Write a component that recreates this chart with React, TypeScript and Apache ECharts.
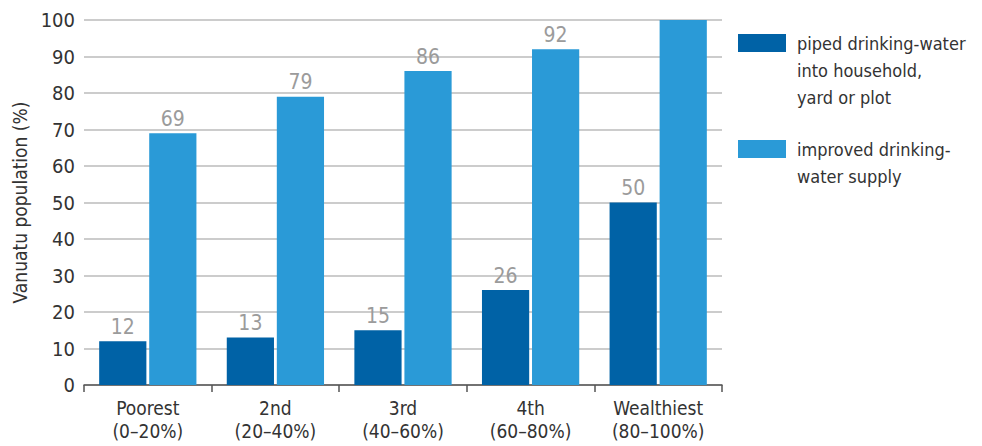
import React, { useEffect, useRef } from "react";
import * as echarts from "echarts";

const categories = ["Poorest\n(0–20%)", "2nd\n(20–40%)", "3rd\n(40–60%)", "4th\n(60–80%)", "Wealthiest\n(80–100%)"];
const pipedValues = [12, 13, 15, 26, 50];
const improvedValues = [69, 79, 86, 92, 100];
const seriesNames = ["piped drinking-water\ninto household,\nyard or plot", "improved drinking-\nwater supply"];
const yAxisName = "Vanuatu population (%)";

const FONT = "'Liberation Sans Narrow', 'DejaVu Sans Condensed', 'Roboto', sans-serif";
const DARK = "#0062a6";
const LIGHT = "#2a9ad7";

export default function App() {
  const ref = useRef<HTMLDivElement>(null);
  useEffect(() => {
    if (!ref.current) return;
    const chart = echarts.init(ref.current, null, { renderer: "svg" });
    const label = {
      show: true,
      position: "top",
      distance: 4,
      color: "#9b9b9b",
      fontSize: 21,
      fontFamily: FONT,
    };
    chart.setOption({
      animation: false,
      textStyle: { fontFamily: FONT },
      grid: { left: 84, right: 260, top: 20, bottom: 61, containLabel: false },
      xAxis: {
        type: "category",
        data: categories,
        axisLine: { show: true, lineStyle: { color: "#555", width: 1.5 } },
        axisTick: { show: true, length: 7, lineStyle: { color: "#555", width: 1.5 } },
        axisLabel: { color: "#333", fontSize: 19, fontFamily: FONT, lineHeight: 23, margin: 11 },
      },
      yAxis: {
        type: "value",
        min: 0,
        max: 100,
        interval: 10,
        name: yAxisName,
        nameLocation: "middle",
        nameGap: 53,
        nameTextStyle: { color: "#333", fontSize: 19, fontFamily: FONT },
        axisLine: { show: false },
        axisTick: { show: false },
        axisLabel: { color: "#333", fontSize: 20, fontFamily: FONT, margin: 9 },
        splitLine: { lineStyle: { color: "#bbbbbb", width: 1.5 } },
      },
      series: [
        {
          name: seriesNames[0],
          type: "bar",
          data: pipedValues,
          itemStyle: { color: DARK },
          barWidth: "37%",
          barGap: "6%",
          label,
        },
        {
          name: seriesNames[1],
          type: "bar",
          data: improvedValues.map((v) => (v >= 100 ? { value: v, label: { show: false } } : v)),
          itemStyle: { color: LIGHT },
          barWidth: "37%",
          label,
        },
      ],
      graphic: [
        { type: "rect", left: 738, top: 34, shape: { width: 48, height: 18 }, style: { fill: DARK } },
        {
          type: "text",
          left: 797,
          top: 30,
          style: { text: seriesNames[0], fill: "#333", fontSize: 18, fontFamily: FONT, lineHeight: 27 },
        },
        { type: "rect", left: 738, top: 140, shape: { width: 48, height: 18 }, style: { fill: LIGHT } },
        {
          type: "text",
          left: 797,
          top: 136,
          style: { text: seriesNames[1], fill: "#333", fontSize: 18, fontFamily: FONT, lineHeight: 27 },
        },
      ],
    });
    return () => chart.dispose();
  }, []);
  return <div ref={ref} style={{ width: 982, height: 446, position: "absolute", left: 0, top: 0 }} />;
}
